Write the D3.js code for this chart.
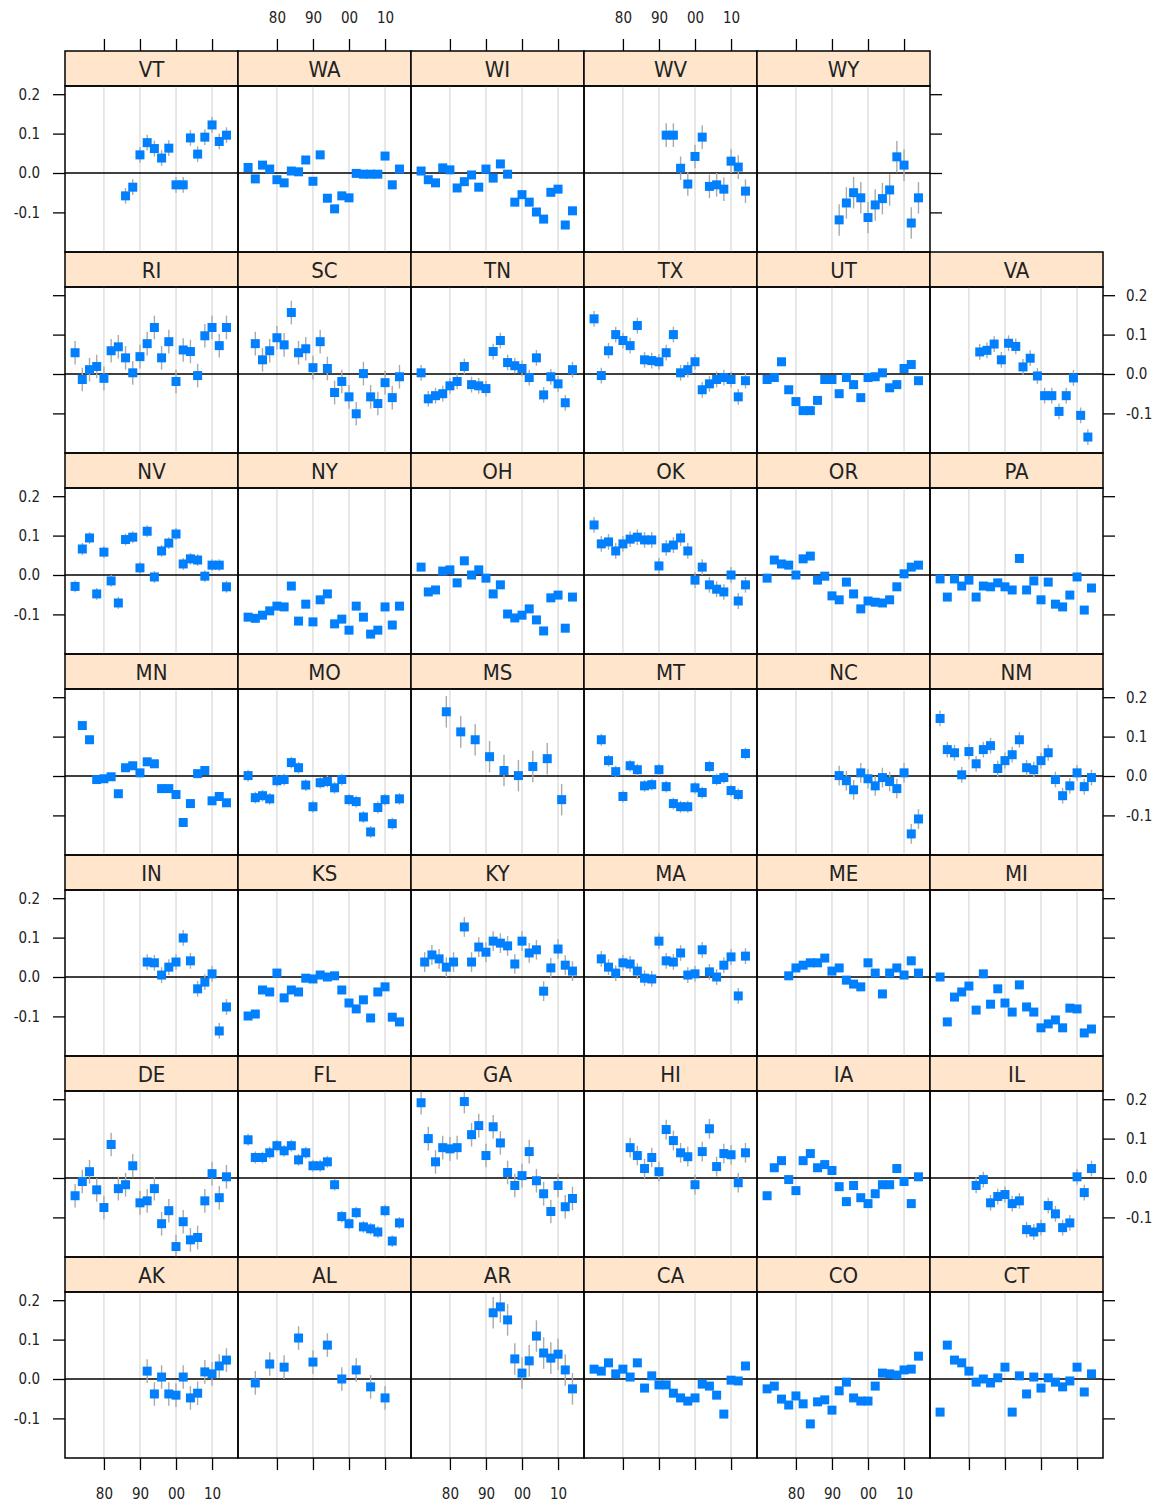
<!DOCTYPE html>
<html>
<head>
<meta charset="utf-8">
<script src="https://cdn.jsdelivr.net/npm/d3@7"></script>
<style>
  body { margin: 0; background: #fff; }
  text { font-family: "DejaVu Sans Condensed", "DejaVu Sans", sans-serif; fill: #222; }
</style>
</head>
<body>
<div id="chart"></div>
<script>
// == DATA ==
const STATES = ['AK','AL','AR','CA','CO','CT','DE','FL','GA','HI','IA','IL','IN','KS','KY','MA','ME','MI',
  'MN','MO','MS','MT','NC','NM','NV','NY','OH','OK','OR','PA','RI','SC','TN','TX','UT','VA','VT','WA','WI','WV','WY'];

const EVEN_YEARS = [1972,1974,1976,1978,1980,1982,1984,1986,1988,1990,1992,1994,1996,1998,2000,2002,2004,2006,2008,2010,2012,2014];
const VA_YEARS = [1983,1985,1987,1989,1991,1993,1995,1997,1999,2001,2003,2005,2007,2009,2011,2013];
const MS_YEARS = [1979,1983,1987,1991,1995,1999,2003,2007,2011];
const AL_YEARS = [1974,1978,1982,1986,1990,1994,1998,2002,2006,2010];
const KY_YEARS = [1973,1975,1977,1979,1981,1984,1986,1988,1990,1992,1994,1996,1998,2000,2002,2004,2006,2008,2010,2012,2014];

const YEARS = { VA: VA_YEARS, MS: MS_YEARS, AL: AL_YEARS, KY: KY_YEARS }; // others use EVEN_YEARS

const n = null;
const VALUES = {
  AK: [n,n,n,n,n,n,n,n,n,n,0.020,-0.038,0.005,-0.038,-0.041,0.005,-0.048,-0.036,0.018,0.013,0.033,0.048],
  AL: [-0.010,0.038,0.030,0.104,0.043,0.086,0.000,0.023,-0.020,-0.048],
  AR: [n,n,n,n,n,n,n,n,n,n,0.168,0.183,0.150,0.051,0.015,0.046,0.109,0.066,0.053,0.063,0.023,-0.025],
  CA: [0.025,0.020,0.041,0.013,0.025,0.005,0.041,-0.023,0.008,-0.015,-0.015,-0.036,-0.048,-0.056,-0.048,-0.013,-0.018,-0.041,-0.089,-0.003,-0.005,0.033],
  CO: [-0.025,-0.018,-0.051,-0.066,-0.043,-0.063,-0.114,-0.058,-0.053,-0.079,-0.030,-0.008,-0.048,-0.056,-0.056,-0.018,0.015,0.013,0.010,0.023,0.025,0.058],
  CT: [-0.084,0.086,0.048,0.041,0.020,-0.008,0.000,-0.010,0.003,0.030,-0.084,0.008,-0.038,0.005,-0.023,0.003,-0.008,-0.020,-0.005,0.030,-0.033,0.013],
  DE: [-0.045,-0.009,0.016,-0.030,-0.075,0.085,-0.027,-0.017,0.031,-0.063,-0.058,-0.027,-0.116,-0.083,-0.174,-0.111,-0.157,-0.151,-0.058,0.011,-0.050,0.003],
  FL: [0.097,0.052,0.052,0.064,0.082,0.069,0.082,0.046,0.064,0.031,0.031,0.041,-0.017,-0.098,-0.116,-0.088,-0.124,-0.129,-0.137,-0.083,-0.160,-0.114],
  GA: [0.191,0.100,0.041,0.077,0.074,0.077,0.194,0.110,0.133,0.057,0.130,0.089,0.014,-0.019,0.006,0.067,-0.007,-0.040,-0.085,-0.019,-0.073,-0.052],
  HI: [n,n,n,n,n,0.077,0.057,0.024,0.052,0.016,0.123,0.095,0.064,0.054,-0.017,0.067,0.125,0.029,0.062,0.059,-0.012,0.064],
  IA: [-0.045,0.026,0.044,-0.004,-0.032,0.044,0.062,0.026,0.034,0.019,-0.022,-0.060,-0.019,-0.050,-0.065,-0.040,-0.017,-0.017,0.024,-0.009,-0.065,0.003],
  IL: [n,n,n,n,n,-0.019,-0.004,-0.063,-0.047,-0.042,-0.065,-0.058,-0.131,-0.137,-0.126,-0.070,-0.091,-0.126,-0.114,0.003,-0.037,0.024],
  IN: [n,n,n,n,n,n,n,n,n,n,0.038,0.036,0.005,0.025,0.038,0.099,0.041,-0.030,-0.013,0.008,-0.137,-0.076],
  KS: [-0.099,-0.094,-0.033,-0.038,0.010,-0.053,-0.033,-0.038,-0.003,-0.005,0.005,0.000,0.003,-0.033,-0.066,-0.081,-0.058,-0.104,-0.038,-0.025,-0.102,-0.114],
  KY: [0.038,0.056,0.046,0.025,0.038,0.127,0.038,0.076,0.063,0.091,0.086,0.079,0.033,0.091,0.061,0.069,-0.036,0.023,0.071,0.030,0.015],
  MA: [n,0.046,0.025,0.010,0.036,0.033,0.015,-0.003,-0.005,0.091,0.041,0.038,0.061,0.005,0.008,0.069,0.013,0.000,0.030,0.051,-0.048,0.053],
  ME: [n,n,n,0.003,0.023,0.030,0.036,0.036,0.048,0.015,0.023,-0.008,-0.018,-0.025,0.036,0.010,-0.043,0.010,0.023,0.005,0.041,0.010],
  MI: [0.000,-0.114,-0.051,-0.038,-0.023,-0.084,0.008,-0.069,-0.030,-0.066,-0.089,-0.020,-0.076,-0.089,-0.129,-0.119,-0.109,-0.129,-0.079,-0.081,-0.142,-0.132],
  MN: [n,0.128,0.092,-0.009,-0.007,-0.002,-0.045,0.021,0.026,0.008,0.036,0.031,-0.032,-0.032,-0.047,-0.118,-0.070,0.006,0.014,-0.063,-0.052,-0.068],
  MO: [0.001,-0.055,-0.050,-0.058,-0.012,-0.009,0.034,0.021,-0.023,-0.078,-0.017,-0.014,-0.030,-0.009,-0.060,-0.065,-0.104,-0.142,-0.080,-0.060,-0.121,-0.058],
  MS: [0.163,0.112,0.092,0.049,0.014,0.001,0.024,0.044,-0.060],
  MT: [n,0.092,0.039,0.011,-0.052,0.026,0.016,-0.025,-0.022,0.016,-0.027,-0.070,-0.078,-0.078,-0.030,-0.042,0.024,-0.009,-0.004,-0.037,-0.047,0.057],
  NC: [n,n,n,n,n,n,n,n,n,n,0.001,-0.012,-0.035,0.008,-0.007,-0.025,-0.004,-0.014,-0.032,0.008,-0.147,-0.109],
  NM: [0.146,0.067,0.059,0.003,0.062,0.031,0.067,0.077,0.019,0.039,0.054,0.092,0.021,0.016,0.039,0.059,-0.009,-0.050,-0.025,0.008,-0.027,-0.004],
  NV: [-0.029,0.066,0.094,-0.048,0.058,-0.015,-0.071,0.090,0.096,0.018,0.111,-0.005,0.061,0.081,0.104,0.028,0.041,0.038,-0.003,0.025,0.025,-0.030],
  NY: [-0.107,-0.110,-0.102,-0.091,-0.079,-0.081,-0.028,-0.117,-0.074,-0.119,-0.063,-0.048,-0.124,-0.112,-0.140,-0.079,-0.107,-0.150,-0.140,-0.081,-0.127,-0.079],
  OH: [0.020,-0.043,-0.038,0.010,0.013,-0.020,0.036,0.000,0.013,-0.008,-0.048,-0.025,-0.099,-0.109,-0.102,-0.086,-0.114,-0.142,-0.058,-0.051,-0.135,-0.056],
  OK: [0.127,0.079,0.084,0.061,0.079,0.091,0.096,0.089,0.089,0.023,0.069,0.076,0.094,0.061,-0.013,0.020,-0.025,-0.036,-0.043,0.000,-0.066,-0.025],
  OR: [-0.008,0.038,0.028,0.025,0.000,0.041,0.048,-0.013,-0.003,-0.053,-0.063,-0.018,-0.048,-0.086,-0.066,-0.069,-0.071,-0.063,-0.030,0.003,0.020,0.025],
  PA: [-0.010,-0.056,-0.010,-0.028,-0.013,-0.056,-0.028,-0.030,-0.020,-0.030,-0.038,0.042,-0.038,-0.015,-0.063,-0.018,-0.074,-0.081,-0.051,-0.005,-0.089,-0.033],
  RI: [0.054,-0.014,0.011,0.019,-0.011,0.059,0.069,0.041,0.003,0.044,0.077,0.118,0.041,0.082,-0.019,0.061,0.057,-0.004,0.097,0.118,0.072,0.118],
  SC: [n,0.077,0.036,0.059,0.092,0.074,0.156,0.054,0.064,0.016,0.082,0.014,-0.047,-0.019,-0.058,-0.101,0.001,-0.058,-0.075,-0.022,-0.060,-0.007],
  TN: [0.003,-0.063,-0.055,-0.050,-0.030,-0.019,0.019,-0.027,-0.030,-0.037,0.057,0.085,0.029,0.021,0.014,-0.009,0.041,-0.053,-0.007,-0.025,-0.073,0.011],
  TX: [0.140,-0.004,0.059,0.100,0.085,0.072,0.123,0.036,0.034,0.031,0.054,0.100,0.003,0.011,0.031,-0.040,-0.025,-0.014,-0.009,-0.014,-0.058,-0.017],
  UT: [-0.014,-0.009,0.031,-0.040,-0.070,-0.093,-0.093,-0.067,-0.014,-0.014,-0.050,-0.009,-0.027,-0.060,-0.009,-0.007,0.003,-0.035,-0.027,0.014,0.024,-0.017],
  VA: [0.056,0.060,0.076,0.036,0.078,0.070,0.018,0.040,-0.005,-0.055,-0.055,-0.095,-0.055,-0.010,-0.105,-0.160],
  VT: [n,n,n,n,n,n,n,-0.058,-0.036,0.046,0.077,0.062,0.038,0.063,-0.030,-0.030,0.089,0.048,0.091,0.122,0.080,0.096],
  WA: [0.014,-0.015,0.020,0.010,-0.017,-0.025,0.005,0.003,0.033,-0.021,0.046,-0.064,-0.091,-0.058,-0.063,-0.001,-0.003,-0.003,-0.003,0.043,-0.030,0.010],
  WI: [0.005,-0.017,-0.025,0.013,0.008,-0.038,-0.022,-0.005,-0.036,0.010,-0.013,0.023,-0.003,-0.074,-0.055,-0.074,-0.099,-0.117,-0.049,-0.041,-0.132,-0.096],
  WV: [n,n,n,n,n,n,n,n,n,n,0.096,0.096,0.012,-0.028,0.042,0.091,-0.034,-0.030,-0.041,0.030,0.015,-0.046],
  WY: [n,n,n,n,n,n,n,n,n,n,-0.119,-0.076,-0.050,-0.063,-0.113,-0.081,-0.065,-0.043,0.041,0.020,-0.127,-0.063]
};

// typical half-length of the grey interval bars
const ERR = {
  AK: 0.03, AL: 0.03, AR: 0.04, CA: 0.005, CO: 0.008, CT: 0.005, DE: 0.03, FL: 0.015, GA: 0.03, HI: 0.025,
  IA: 0.01, IL: 0.02, IN: 0.02, KS: 0.005, KY: 0.025, MA: 0.02, ME: 0.005, MI: 0.005, MN: 0.005, MO: 0.015,
  MS: 0.04, MT: 0.015, NC: 0.025, NM: 0.02, NV: 0.015, NY: 0.005, OH: 0.005, OK: 0.02, OR: 0.01, PA: 0.005,
  RI: 0.03, SC: 0.03, TN: 0.02, TX: 0.02, UT: 0.01, VA: 0.02, VT: 0.02, WA: 0.01, WI: 0.01, WV: 0.03, WY: 0.04
};

const X_TICKS = [1980, 1990, 2000, 2010];
const X_LABELS = ['80', '90', '00', '10'];
const Y_TICKS = [0.2, 0.1, 0.0, -0.1];

// == LAYOUT ==
const W = 1162, H = 1505;
const NCOL = 6, NROW = 7;
const LEFT = 65, TOP = 51;
const PW = 173, ROWH = 201, STRIP = 35, PH = ROWH - STRIP;
const SQ = 9; // marker size
const COLOR_PT = '#0080ff';
const COLOR_STRIP = '#ffe5cc';

const svg = d3.select('#chart').append('svg').attr('width', W).attr('height', H);

const x = d3.scaleLinear().domain([1969.2, 2017.2]).range([0, PW]);
const y = d3.scaleLinear().domain([-0.2005, 0.2208]).range([PH, 0]);
const fmtY = d => d3.format('.1f')(d).replace('\u2212', '-');

STATES.forEach((st, p) => {
  const col = p % NCOL;
  const rowFromBottom = Math.floor(p / NCOL);
  const row = NROW - 1 - rowFromBottom;
  const gx = LEFT + col * PW;
  const gy = TOP + row * ROWH;
  const g = svg.append('g').attr('transform', `translate(${gx},${gy})`);

  // strip
  g.append('rect').attr('width', PW).attr('height', STRIP)
    .attr('fill', COLOR_STRIP).attr('stroke', '#000').attr('stroke-width', 1.5);
  g.append('text').attr('x', PW / 2).attr('y', STRIP / 2 + 8)
    .attr('text-anchor', 'middle').attr('font-size', 22).text(st);

  const pg = g.append('g').attr('transform', `translate(0,${STRIP})`);
  pg.append('defs').append('clipPath').attr('id', 'clip-' + st)
    .append('rect').attr('width', PW).attr('height', PH);

  // reference lines
  pg.selectAll('line.vref').data(X_TICKS).enter().append('line')
    .attr('x1', d => x(d)).attr('x2', d => x(d)).attr('y1', 0).attr('y2', PH)
    .attr('stroke', '#d0d0d0').attr('stroke-width', 1);
  pg.append('line').attr('x1', 0).attr('x2', PW).attr('y1', y(0)).attr('y2', y(0))
    .attr('stroke', '#000').attr('stroke-width', 1.5);

  const yrs = YEARS[st] || EVEN_YEARS;
  const pts = VALUES[st].map((v, i) => ({ year: yrs[i], v })).filter(d => d.v !== null);
  const e = ERR[st];
  const body = pg.append('g').attr('clip-path', `url(#clip-${st})`);

  body.selectAll('line.err').data(pts).enter().append('line')
    .attr('x1', d => x(d.year)).attr('x2', d => x(d.year))
    .attr('y1', d => y(d.v - e)).attr('y2', d => y(d.v + e))
    .attr('stroke', '#aaaaaa').attr('stroke-width', 1.4);
  body.selectAll('rect.pt').data(pts).enter().append('rect')
    .attr('x', d => x(d.year) - SQ / 2).attr('y', d => y(d.v) - SQ / 2)
    .attr('width', SQ).attr('height', SQ).attr('fill', COLOR_PT);

  pg.append('rect').attr('width', PW).attr('height', PH)
    .attr('fill', 'none').attr('stroke', '#000').attr('stroke-width', 1.5);

  // left axis (first column)
  if (col === 0) {
    const ax = pg.append('g').call(d3.axisLeft(y).tickValues(Y_TICKS).tickSize(12)
      .tickFormat(rowFromBottom % 2 === 0 ? fmtY : ''));
    ax.select('.domain').remove();
    ax.selectAll('line').attr('stroke-width', 1.3);
    ax.selectAll('text').attr('font-size', 15).attr('dx', -10).attr('fill', '#222');
  }
  // right axis (last panel in its row)
  const last = col === NCOL - 1 || p === STATES.length - 1;
  if (last) {
    const ax = pg.append('g').attr('transform', `translate(${PW},0)`)
      .call(d3.axisRight(y).tickValues(Y_TICKS).tickSize(12)
        .tickFormat(rowFromBottom % 2 === 1 ? fmtY : ''));
    ax.select('.domain').remove();
    ax.selectAll('line').attr('stroke-width', 1.3);
    ax.selectAll('text').attr('font-size', 15).attr('dx', 8).attr('fill', '#222');
  }
  // bottom axis
  if (rowFromBottom === 0) {
    const ax = pg.append('g').attr('transform', `translate(0,${PH})`)
      .call(d3.axisBottom(x).tickValues(X_TICKS).tickSize(12)
        .tickFormat(col % 2 === 0 ? (d, i) => X_LABELS[i] : ''));
    ax.select('.domain').remove();
    ax.selectAll('line').attr('stroke-width', 1.3);
    ax.selectAll('text').attr('font-size', 15).attr('dy', '1.75em').attr('fill', '#222');
  }
  // top axis
  if (row === 0) {
    const ax = g.append('g')
      .call(d3.axisTop(x).tickValues(X_TICKS).tickSize(12)
        .tickFormat(col % 2 === 1 ? (d, i) => X_LABELS[i] : ''));
    ax.select('.domain').remove();
    ax.selectAll('line').attr('stroke-width', 1.3);
    ax.selectAll('text').attr('font-size', 15).attr('dy', '-0.9em').attr('fill', '#222');
  }
});
</script>
</body>
</html>
